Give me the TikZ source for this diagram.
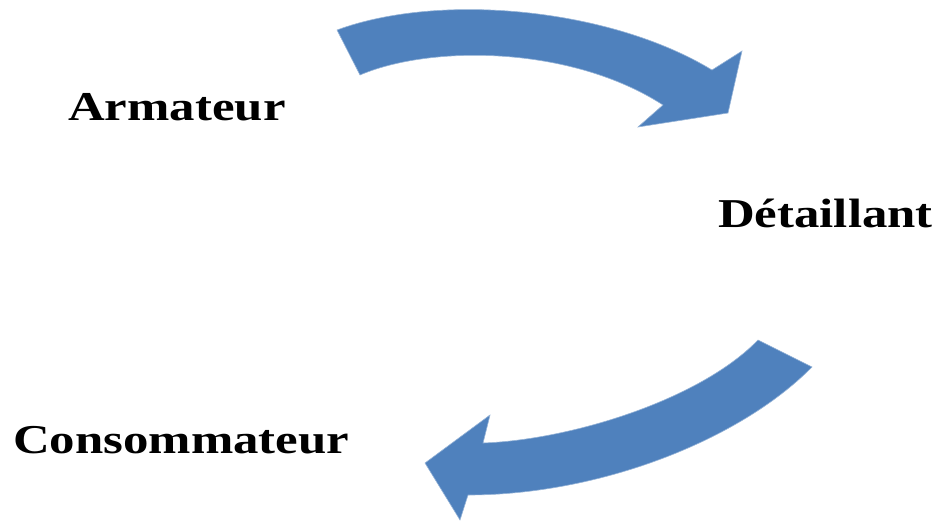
\documentclass[tikz,border=0pt]{standalone}
\usepackage{fontspec}
\newfontfamily\labelfont[FakeStretch=1.24]{Liberation Serif}
\definecolor{arrowblue}{RGB}{79,129,189}
\tikzset{
  lbl/.style={anchor=base west, inner sep=0pt, font=\labelfont\bfseries\fontsize{41}{48}\selectfont, text=black},
  bigarrow/.style={fill=arrowblue, draw=arrowblue!60!white, line width=0.6pt, line join=miter}
}
\begin{document}
\begin{tikzpicture}[x=1pt,y=-1pt]
\useasboundingbox (0,0) rectangle (940,522);
% labels
\node[lbl] (arm) at (68,120) {Armateur};
\node[lbl] (det) at (718,227) {Détaillant};
\node[lbl] (con) at (13,453) {Consommateur};
% top curved arrow (Armateur -> Détaillant)
\fill[bigarrow] (337,30) .. controls (440,-8) and (610,8) .. (712,70)
  -- (742,51) -- (728,113) -- (638,127) -- (663,105)
  .. controls (570,45) and (430,45) .. (360,75) -- cycle;
% bottom curved arrow (Détaillant -> Consommateur)
\fill[bigarrow] (758,340) -- (812,367)
  .. controls (740,440) and (600,495) .. (468,495)
  -- (460,520) -- (425,463) -- (490,415) -- (483,443)
  .. controls (570,440) and (700,400) .. (758,340) -- cycle;
\end{tikzpicture}
\end{document}
